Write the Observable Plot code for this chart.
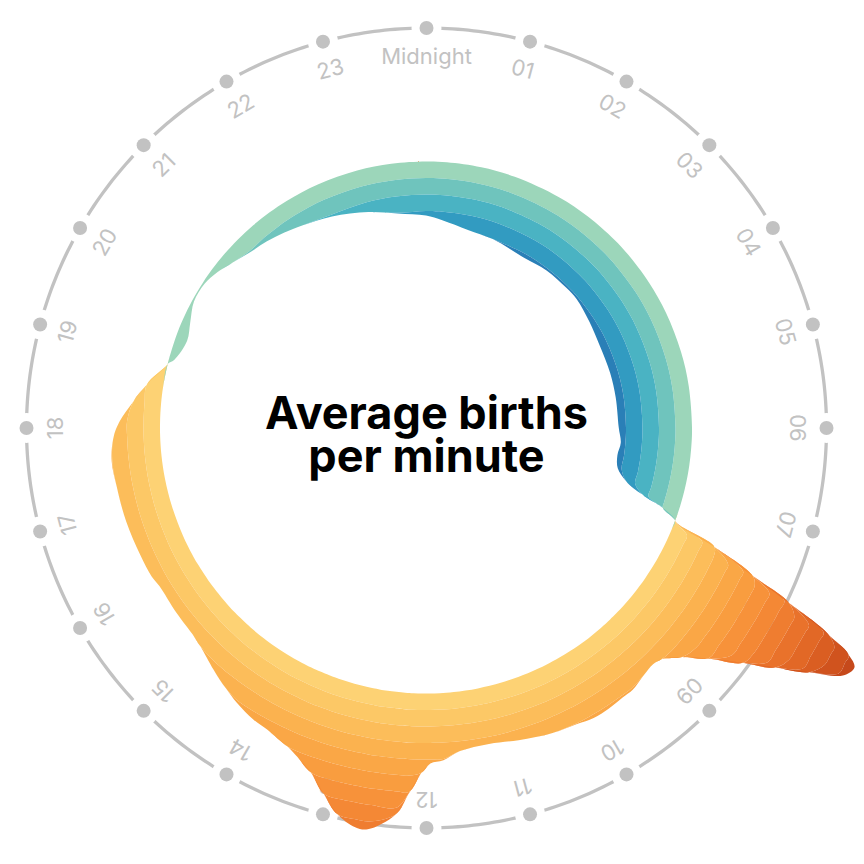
<!DOCTYPE html>
<html>
<head>
<meta charset="utf-8">
<script src="https://cdn.jsdelivr.net/npm/d3@7"></script>
<script src="https://cdn.jsdelivr.net/npm/@observablehq/plot@0.6"></script>
<style>
  html, body { margin: 0; padding: 0; background: #fff; overflow: hidden; }
  #chart svg { display: block; }
</style>
</head>
<body>
<div id="chart"></div>
<script>
// ---- data ----
const hours = [0, 0.3, 0.8, 1.3, 2, 2.5, 3, 3.3, 3.8, 4.3, 4.9, 5.4, 6, 6.3, 6.55, 6.8, 7, 7.15, 7.25, 7.37,
  7.5, 7.63, 7.72, 7.82, 7.89, 7.95, 8.05, 8.17, 8.3, 8.44, 8.61, 8.79, 8.96, 9.08, 9.26, 9.45, 9.6, 9.8,
  10, 10.2, 10.5, 10.9, 11.25, 11.6, 11.8, 11.95, 12.05, 12.18, 12.3, 12.55, 12.67, 12.86, 13.04, 13.23,
  13.42, 13.56, 13.85, 14.04, 14.3, 14.5, 14.75, 15.06, 15.2, 15.56, 15.95, 16.1, 16.4, 16.84, 17.26,
  17.59, 17.87, 18.08, 18.34, 18.58, 18.92, 19, 19.33, 19.6, 19.9, 20.2, 20.45, 20.7, 21, 21.3, 21.6,
  21.9, 22.4, 23, 23.5];
const births = [6.78, 6.72, 6.63, 6.60, 6.54, 6.57, 6.57, 6.57, 6.52, 6.48, 6.48, 6.48, 6.49, 6.53, 6.50, 6.54, 6.71, 7.01, 7.36, 7.60,
  8.30, 9.01, 9.68, 10.45, 10.86, 11.01, 10.92, 10.46, 9.99, 9.55, 9.12, 8.78, 8.58, 8.54, 8.57, 8.63, 8.63, 8.65,
  8.65, 8.61, 8.58, 8.51, 8.46, 8.50, 8.62, 8.66, 8.80, 9.12, 9.45, 9.72, 9.72, 9.58, 9.33, 9.08,
  8.93, 8.84, 8.74, 8.71, 8.63, 8.55, 8.45, 8.33, 8.30, 8.28, 8.27, 8.30, 8.31, 8.33, 8.34,
  8.36, 8.31, 8.21, 8.02, 7.85, 7.60, 7.52, 7.42, 7.48, 7.57, 7.57, 7.51, 7.42, 7.33, 7.28, 7.22,
  7.16, 7.07, 6.95, 6.84];
const average = 7.6;      // births per minute (baseline circle)
const bandSize = 0.25;    // births per minute per colour band
const hourLabels = ["Midnight", "01", "02", "03", "04", "05", "06", "07", "08", "09", "10", "11",
  "12", "13", "14", "15", "16", "17", "18", "19", "20", "21", "22", "23"];
const titleLines = ["Average births", "per minute"];
const aboveColors = ["#fdd274", "#fcc866", "#fcbd5a", "#fbb24f", "#faa746", "#f99d3f", "#f7923a",
  "#f48835", "#ef7d30", "#e9722b", "#e26826", "#da5e22", "#d0531e", "#c6491b"];
const belowColors = ["#9cd6ba", "#6fc4bd", "#4ab3c3", "#329bc1", "#2a7fb7"];

// ---- layout ----
const baseRadius = 266, bandPx = 16.5, clockRadius = 400, labelRadius = 371;
const gray = "#c2c2c2";
const ang = h => h * Math.PI / 12;

const rows = [];
function addBands(sign, colors, start) {
  const n = hours.length;
  const order = d3.range(n + 1).map(j => (start + j) % n);
  colors.forEach((color, k) => {
    for (const i of order) {
      const s = Math.max(0, sign * (births[i] - average) / bandSize);
      const r1 = baseRadius + sign * Math.min(s, k) * bandPx;
      const r2 = baseRadius + sign * Math.min(s, k + 1) * bandPx;
      const a = ang(hours[i]);
      rows.push({key: `${sign}:${k}`, color,
        x1: r1 * Math.sin(a), y1: r1 * Math.cos(a), x2: r2 * Math.sin(a), y2: r2 * Math.cos(a)});
    }
  });
}
addBands(1, aboveColors, 0);
addBands(-1, belowColors, hours.findIndex(h => h >= 12));

const ring = d3.range(0, 24.001, 0.05);
const hourIdx = d3.range(24);

const chart = Plot.plot({
  width: 864, height: 864, margin: 0,
  x: {domain: [-426, 438], axis: null},
  y: {domain: [-436.5, 427.5], axis: null},
  color: {type: "identity"},
  style: {fontFamily: "Inter, 'Noto Sans', sans-serif", background: "white"},
  marks: [
    Plot.line(ring, {x: h => clockRadius * Math.sin(ang(h)), y: h => clockRadius * Math.cos(ang(h)),
      stroke: gray, strokeWidth: 3.3}),
    Plot.dot(hourIdx, {x: h => clockRadius * Math.sin(ang(h)), y: h => clockRadius * Math.cos(ang(h)),
      r: 7, fill: gray, stroke: "white", strokeWidth: 16, paintOrder: "stroke"}),
    Plot.text(hourLabels, {x: (d, i) => labelRadius * Math.sin(ang(i)), y: (d, i) => labelRadius * Math.cos(ang(i)),
      text: d => d, rotate: (d, i) => i * 15, fontSize: 22, fill: gray}),
    Plot.area(rows, {x1: "x1", y1: "y1", x2: "x2", y2: "y2", z: "key", fill: "color", curve: "catmull-rom"}),
    Plot.text(titleLines, {x: () => 0, y: (d, i) => 13.9 - i * 43.3, text: d => d, fontSize: 45,
      fontWeight: 700, fill: "black"})
  ]
});
document.getElementById("chart").appendChild(chart);
</script>
</body>
</html>
